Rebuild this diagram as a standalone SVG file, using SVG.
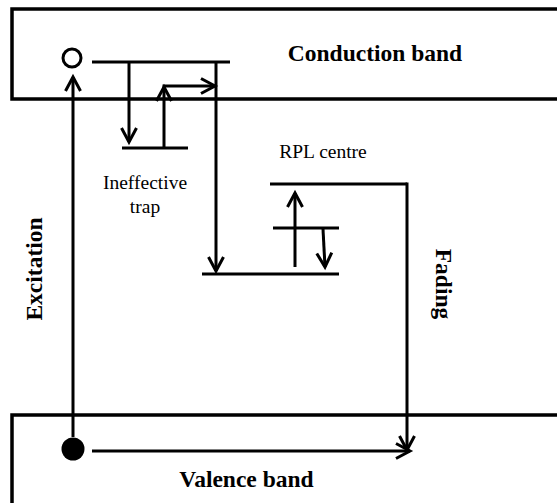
<svg xmlns="http://www.w3.org/2000/svg" width="557" height="503" viewBox="0 0 557 503">
  <style>
    .band { fill: none; stroke: #000; stroke-width: 3.5; }
    .lvl { fill: none; stroke: #000; stroke-width: 3; }
    .conn { fill: none; stroke: #000; stroke-width: 3; }
    .bold { font-family: "Liberation Serif", "DejaVu Serif", serif; font-weight: bold; font-size: 23.5px; fill: #000; }
    .reg { font-family: "Liberation Serif", "DejaVu Serif", serif; font-weight: 400; font-style: normal; font-size: 19.5px; fill: #000; }
  </style>
  <defs>
    <marker id="arr" viewBox="-16 -10 20 20" markerWidth="20" markerHeight="20" refX="0" refY="0" orient="auto" markerUnits="userSpaceOnUse">
      <path d="M-14,-7.5 L0,0 L-14,7.5" fill="none" stroke="#000" stroke-width="3"/>
    </marker>
  </defs>
  <rect width="557" height="503" fill="#fff"/>

  <g id="conduction-band">
    <path class="band" d="M570,9 H12 V99 H570"/>
    <text class="bold" x="375" y="61" text-anchor="middle">Conduction band</text>
  </g>

  <g id="valence-band">
    <path class="band" d="M570,415 H12 V520"/>
    <text class="bold" x="246.5" y="487" text-anchor="middle">Valence band</text>
  </g>

  <g id="electron">
    <circle cx="72" cy="58" r="9" fill="none" stroke="#000" stroke-width="3"/>
  </g>
  <g id="hole">
    <circle cx="73" cy="449" r="11.5" fill="#000"/>
  </g>

  <g id="conduction-level">
    <line class="lvl" x1="92" y1="62" x2="230" y2="62"/>
  </g>

  <g id="ineffective-trap">
    <line class="lvl" x1="122" y1="148" x2="188" y2="148"/>
    <text class="reg" x="145" y="189" text-anchor="middle">Ineffective</text>
    <text class="reg" x="145" y="213" text-anchor="middle">trap</text>
  </g>

  <g id="rpl-centre">
    <text class="reg" x="323" y="158" text-anchor="middle">RPL centre</text>
    <line class="lvl" x1="270" y1="184" x2="407" y2="184"/>
    <line class="lvl" x1="273" y1="228" x2="339" y2="228"/>
    <line class="lvl" x1="202" y1="274" x2="339" y2="274"/>
  </g>

  <g id="labels">
    <text class="bold" transform="translate(42,269) rotate(-90)" text-anchor="middle">Excitation</text>
    <text class="bold" transform="translate(436,284) rotate(90)" text-anchor="middle">Fading</text>
  </g>

  <g id="connectors">
    <line class="conn" x1="73" y1="437" x2="73" y2="77" marker-end="url(#arr)"/>
    <line class="conn" x1="129" y1="62" x2="129" y2="142" marker-end="url(#arr)"/>
    <line class="conn" x1="164" y1="148" x2="164" y2="87" marker-end="url(#arr)"/>
    <line class="conn" x1="162.5" y1="86" x2="215" y2="86" marker-end="url(#arr)"/>
    <line class="conn" x1="216" y1="62" x2="216" y2="271" marker-end="url(#arr)"/>
    <line class="conn" x1="295" y1="267" x2="295" y2="193" marker-end="url(#arr)"/>
    <line class="conn" x1="323" y1="229" x2="325" y2="267" marker-end="url(#arr)"/>
    <line class="conn" x1="407" y1="182.5" x2="407" y2="450" marker-end="url(#arr)"/>
    <line class="conn" x1="92" y1="451" x2="410" y2="451" marker-end="url(#arr)"/>
  </g>
</svg>
